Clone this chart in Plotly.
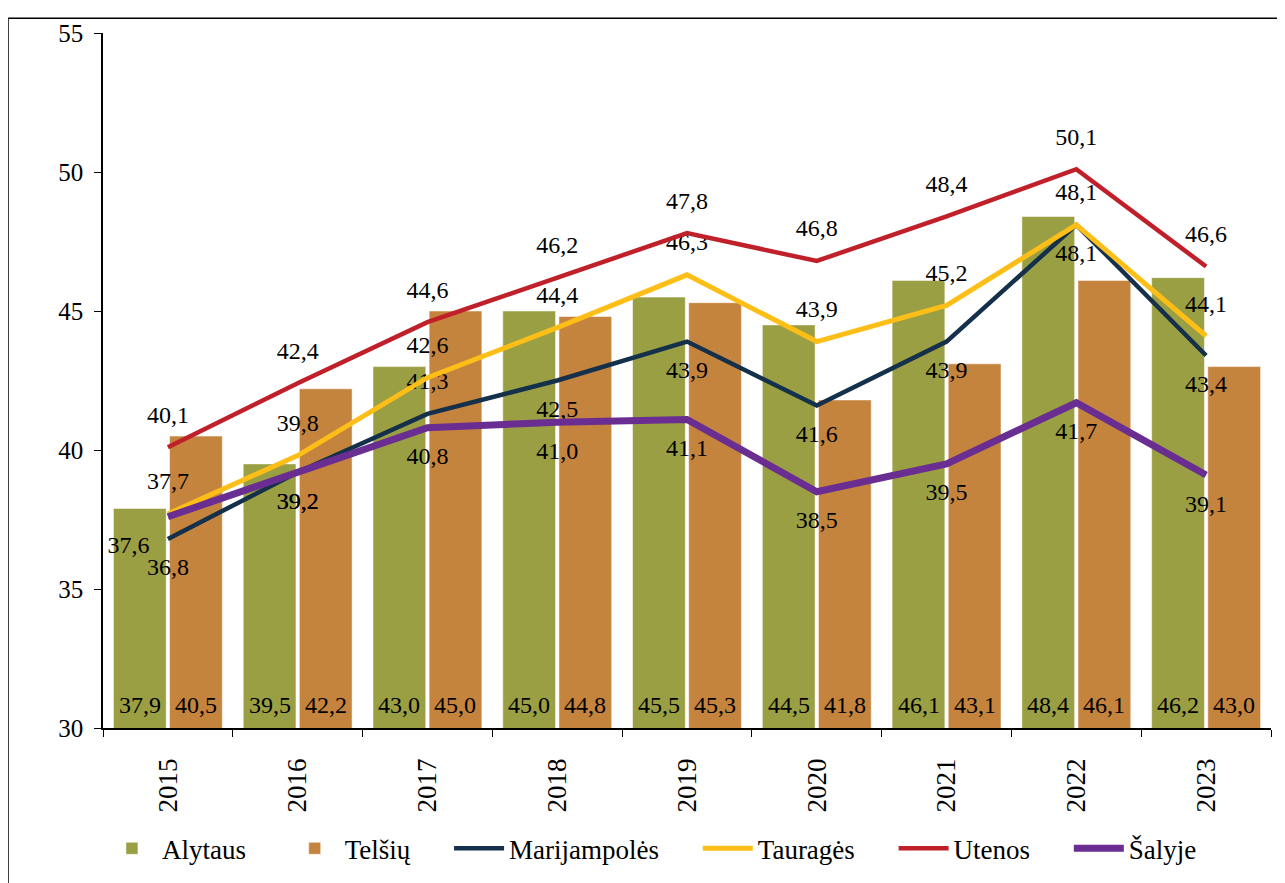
import plotly.graph_objects as go

years = ['2015', '2016', '2017', '2018', '2019', '2020', '2021', '2022', '2023']

alytaus = [37.9, 39.5, 43.0, 45.0, 45.5, 44.5, 46.1, 48.4, 46.2]
telsiu = [40.5, 42.2, 45.0, 44.8, 45.3, 41.8, 43.1, 46.1, 43.0]
marijampoles = [36.8, 39.2, 41.3, 42.5, 43.9, 41.6, 43.9, 48.1, 43.4]
taurages = [37.7, 39.8, 42.6, 44.4, 46.3, 43.9, 45.2, 48.1, 44.1]
utenos = [40.1, 42.4, 44.6, 46.2, 47.8, 46.8, 48.4, 50.1, 46.6]
salyje = [37.6, 39.2, 40.8, 41.0, 41.1, 38.5, 39.5, 41.7, 39.1]

FONT = 'Liberation Serif'

# the page has an 8px body margin, so everything is shifted by 8px
OFF = 8
PAD = '\u00a0' * 5   # widens the gaps between legend entries


def lt(values):
    # lithuanian decimal comma
    return ['{:.1f}'.format(v).replace('.', ',') for v in values]


fig = go.Figure()

bar_series = [('Alytaus', alytaus, '#9A9F43', -28),
              ('Telšių', telsiu, '#C5843E', 28)]

annotations = []
for name, vals, color, shift in bar_series:
    fig.add_trace(go.Bar(
        x=years, y=vals, name=name + PAD,
        marker=dict(color=color, line=dict(color='rgba(255,255,255,0.5)', width=1)),
        textposition='none',
    ))
    # value labels sit at the foot of each bar (axis starts at 30);
    # category axis -> annotation x is the category index
    for i, txt in enumerate(lt(vals)):
        annotations.append(dict(
            x=i, y=30, xref='x', yref='y', text=txt, showarrow=False,
            xshift=shift, yshift=8, yanchor='bottom',
            font=dict(family=FONT, size=24, color='black'),
        ))

top = ['top center'] * 9
bottom = ['bottom center'] * 9
marij_pos = list(bottom)
marij_pos[2] = 'top center'
salyje_pos = list(bottom)
salyje_pos[0] = 'bottom left'

lines = [
    ('Marijampolės' + PAD, marijampoles, '#14304A', 4.5, marij_pos),
    ('Tauragės' + PAD, taurages, '#FDBE17', 5, top),
    ('Utenos' + PAD, utenos, '#C0202A', 4.5, top),
    ('Šalyje', salyje, '#6A2D91', 7, salyje_pos),
]

for name, vals, color, w, pos in lines:
    fig.add_trace(go.Scatter(
        x=years, y=vals, name=name,
        mode='lines+markers+text',
        line=dict(color=color, width=w),
        marker=dict(size=28, color='rgba(0,0,0,0)'),
        text=lt(vals),
        textposition=pos,
        textfont=dict(family=FONT, size=24, color='black'),
        cliponaxis=False,
    ))

W, H = 1285, 883
left, right, top_px, bottom_px = 103 - OFF, 1271 - OFF, 26 - OFF, 728 - OFF
plot_w = right - left
plot_h = bottom_px - top_px

fig.update_layout(
    width=W,
    height=H,
    margin=dict(l=left, r=W - right, t=top_px, b=H - bottom_px),
    paper_bgcolor='white',
    plot_bgcolor='white',
    font=dict(family=FONT, size=24, color='black'),
    barmode='group',
    bargap=0.135,
    bargroupgap=0.06,
    showlegend=True,
    annotations=annotations,
    legend=dict(
        orientation='h',
        x=0.47, xanchor='center',
        y=-(850 - 728) / plot_h, yanchor='middle',
        font=dict(family=FONT, size=27),
        itemwidth=50,
        traceorder='normal',
    ),
    xaxis=dict(
        type='category',
        range=[-0.5, len(years) - 0.5],
        tickangle=-90,
        showline=True, linecolor='black', linewidth=1.5,
        ticks='outside', tickson='boundaries', ticklen=7, tickcolor='black',
        ticklabelstandoff=18,
        showgrid=False, zeroline=False,
        tickfont=dict(family=FONT, size=27),
    ),
    yaxis=dict(
        range=[30, 55], dtick=5, tick0=30,
        showline=True, linecolor='black', linewidth=1.5,
        ticks='outside', ticklen=7, tickcolor='black',
        ticklabelstandoff=6,
        showgrid=False, zeroline=False,
        tickfont=dict(family=FONT, size=25),
    ),
    shapes=[dict(
        type='rect', xref='paper', yref='paper',
        x0=(8 - 103) / plot_w, x1=(1300 - 103) / plot_w,
        y0=(728 - 900) / plot_h, y1=1 + (26 - 11) / plot_h,
        line=dict(color='black', width=1.5),
        fillcolor='rgba(0,0,0,0)',
    )],
)

fig.write_html("out.html")
